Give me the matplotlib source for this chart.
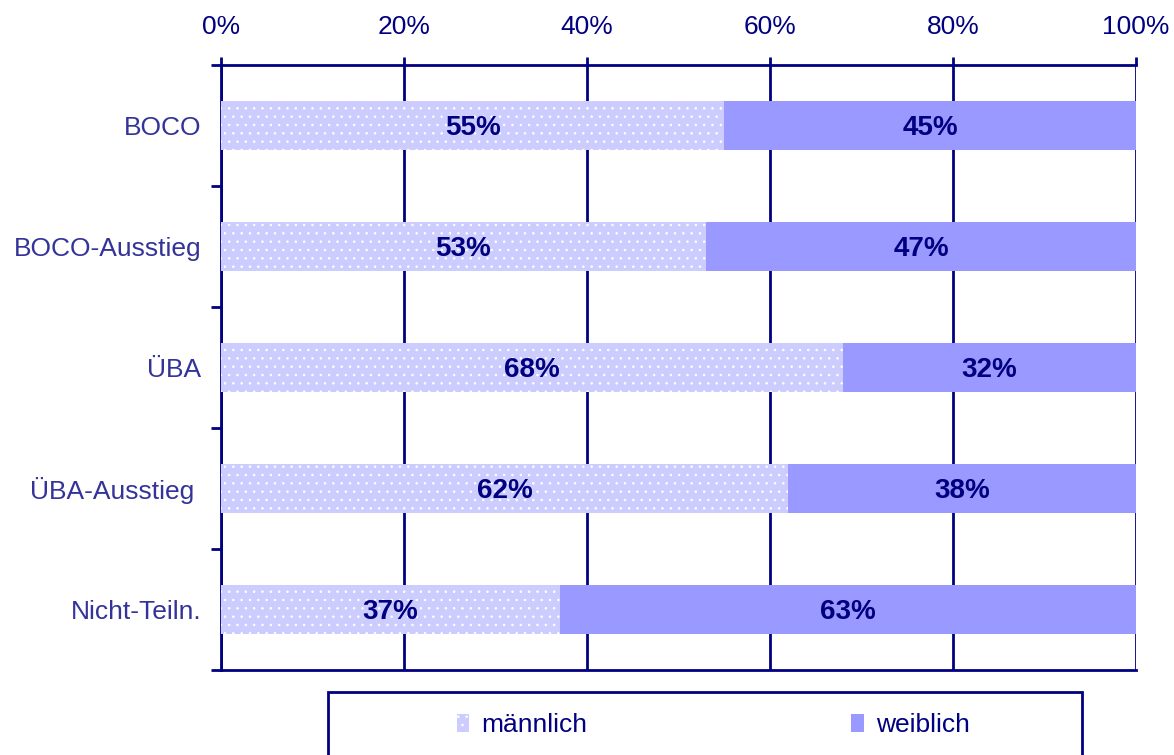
import matplotlib.pyplot as plt
import matplotlib.patches as mpatches
import numpy as np

plt.rcParams['font.family'] = ['Liberation Sans', 'DejaVu Sans']
plt.rcParams['hatch.linewidth'] = 0.6

# Daten
kategorien = ['BOCO', 'BOCO-Ausstieg', 'ÜBA', 'ÜBA-Ausstieg ', 'Nicht-Teiln.']
maennlich = [55, 53, 68, 62, 37]
weiblich = [45, 47, 32, 38, 63]
x_ticks = [0, 20, 40, 60, 80, 100]

navy = '#000080'
label_col = '#333399'
col_m = '#CCCCFF'
col_w = '#9999FF'
fs = 19

fig = plt.figure(figsize=(11.74, 7.55), dpi=100)
ax = fig.add_axes([221 / 1174, 1 - 670 / 755, 915 / 1174, 605 / 755])

y = np.arange(len(kategorien))
bar_h = 0.41

bars_m = ax.barh(y, maennlich, height=bar_h, color=col_m, edgecolor='white',
                 linewidth=0, hatch='..', zorder=3, label='männlich')
bars_w = ax.barh(y, weiblich, left=maennlich, height=bar_h, color=col_w,
                 linewidth=0, zorder=3, label='weiblich')

# Beschriftung in den Balken
for i in range(len(kategorien)):
    ax.text(maennlich[i] / 2, y[i] + 0.02, f'{maennlich[i]}%', ha='center',
            va='center', fontsize=20, fontweight='bold', color=navy, zorder=4)
    ax.text(maennlich[i] + weiblich[i] / 2, y[i] + 0.02, f'{weiblich[i]}%',
            ha='center', va='center', fontsize=20, fontweight='bold', color=navy,
            zorder=4)

ax.set_xlim(0, 100)
ax.set_ylim(len(kategorien) - 0.5, -0.5)

# x-Achse oben
ax.xaxis.tick_top()
ax.set_xticks(x_ticks)
ax.set_xticklabels([f'{t}%' for t in x_ticks])
ax.tick_params(axis='x', colors=navy, labelcolor=navy, labelsize=fs, length=6,
               width=2, pad=13)
ax.xaxis.grid(True, color=navy, linewidth=2, zorder=0)
ax.set_axisbelow(True)

# y-Achse
ax.set_yticks(y)
ax.set_yticklabels(kategorien)
ax.set_yticks(np.arange(-0.5, len(kategorien), 1), minor=True)
ax.tick_params(axis='y', which='major', length=0, labelsize=fs,
               labelcolor=label_col, pad=14)
ax.tick_params(axis='y', which='minor', length=7, width=2, color=navy)

for s in ['top', 'bottom', 'left']:
    ax.spines[s].set_color(navy)
    ax.spines[s].set_linewidth(2)
ax.spines['right'].set_visible(False)

# Legende
rahmen = mpatches.Rectangle((328 / 1174, -0.05), 754 / 1174, 0.05 + 1 - 692 / 755,
                            transform=fig.transFigure, fill=False, edgecolor=navy,
                            linewidth=2)
fig.patches.append(rahmen)
fig.legend(handles=[bars_m, bars_w], loc='center', ncol=2,
           bbox_to_anchor=(713 / 1174, 1 - 725 / 755), frameon=False,
           fontsize=fs, labelcolor=navy, handlelength=0.48, handleheight=0.68,
           handletextpad=0.45, columnspacing=10.0)

fig.savefig('out.png', dpi=100)
